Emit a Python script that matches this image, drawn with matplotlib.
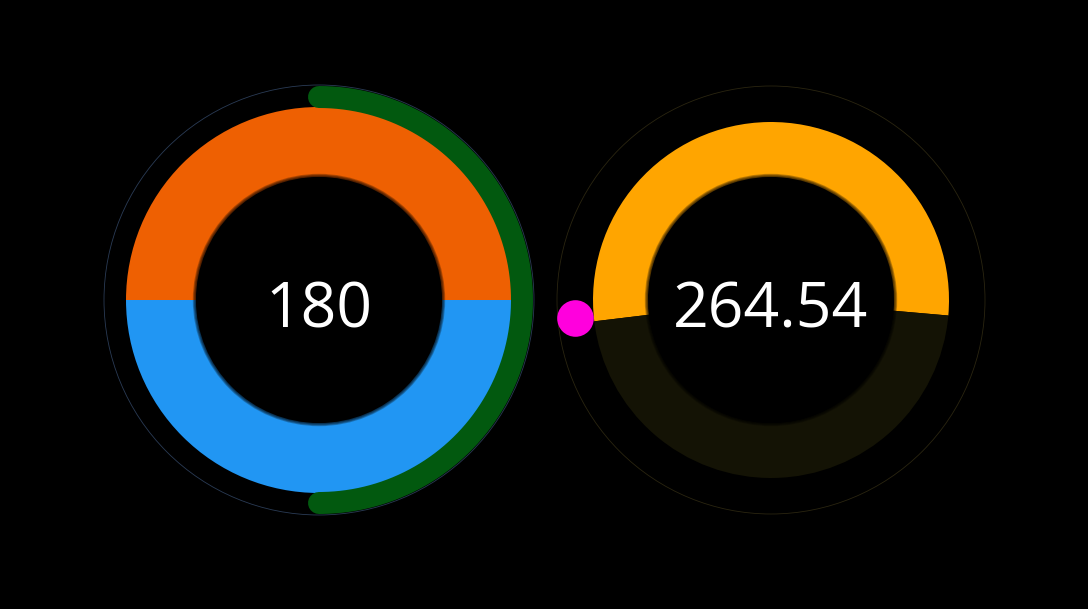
import numpy as np
import matplotlib
matplotlib.use("Agg")
import matplotlib.pyplot as plt

# left gauge: two halves + progress arc
left_values = [50, 50]
left_colors = ["#ee6002", "#2196f3"]
left_label = "180"
left_progress = 0.5          # fraction of the circle covered by the green arc

# right gauge: filled part vs remainder, plus a marker dot
right_values = [53.3, 46.7]
right_colors = ["#ffa500", "#141305"]
right_label = "264.54"
right_marker_angle = 185.3   # degrees, counter-clockwise from 3 o'clock

W, H = 1088, 609
fig = plt.figure(figsize=(W / 100, H / 100), dpi=100, facecolor="black")
ax = fig.add_axes([0, 0, 1, 1])
ax.set_facecolor("black")

lc = (319, H - 300)
rc = (771, H - 300)
PX = 0.72  # points per pixel at dpi 100


def inner_shadow(center, r):
    # soft dark edge where the ring meets the hole
    for k in range(5):
        c = plt.Circle(center, r + k * 0.8, color="black", alpha=0.25, lw=0)
        ax.add_patch(c)


# ---- left gauge
ax.add_patch(plt.Circle(lc, 215, fill=False, ec="#2a3b55", lw=0.6))
ax.pie(left_values, colors=left_colors, startangle=0, counterclock=True,
       center=lc, radius=193, wedgeprops=dict(width=70, lw=0), frame=True)
inner_shadow(lc, 123)
t = np.linspace(90, 90 - 360 * left_progress, 200)
ax.plot(lc[0] + 203 * np.cos(np.radians(t)), lc[1] + 203 * np.sin(np.radians(t)),
        color="#02590f", lw=22 * PX, solid_capstyle="round", zorder=4)
ax.text(lc[0], H - 327, left_label, color="white", fontsize=45,
        family="Open Sans", ha="center", va="baseline")

# ---- right gauge
ax.add_patch(plt.Circle(rc, 214, fill=False, ec="#2a2510", lw=0.6))
ax.pie(right_values, colors=right_colors, startangle=-5, counterclock=True,
       center=rc, radius=178, wedgeprops=dict(width=55, lw=0), frame=True)
inner_shadow(rc, 123)
a = np.radians(right_marker_angle)
ax.scatter([rc[0] + 197 * np.cos(a)], [rc[1] + 197 * np.sin(a)], s=(36.6 * PX) ** 2,
           color="#ff00dd", lw=0, zorder=5)
ax.text(rc[0], H - 327, right_label, color="white", fontsize=45,
        family="Open Sans", ha="center", va="baseline")

ax.set_xlim(0, W)
ax.set_ylim(0, H)
ax.set_aspect("auto")
ax.axis("off")
fig.savefig("out.png", dpi=100, facecolor="black")
